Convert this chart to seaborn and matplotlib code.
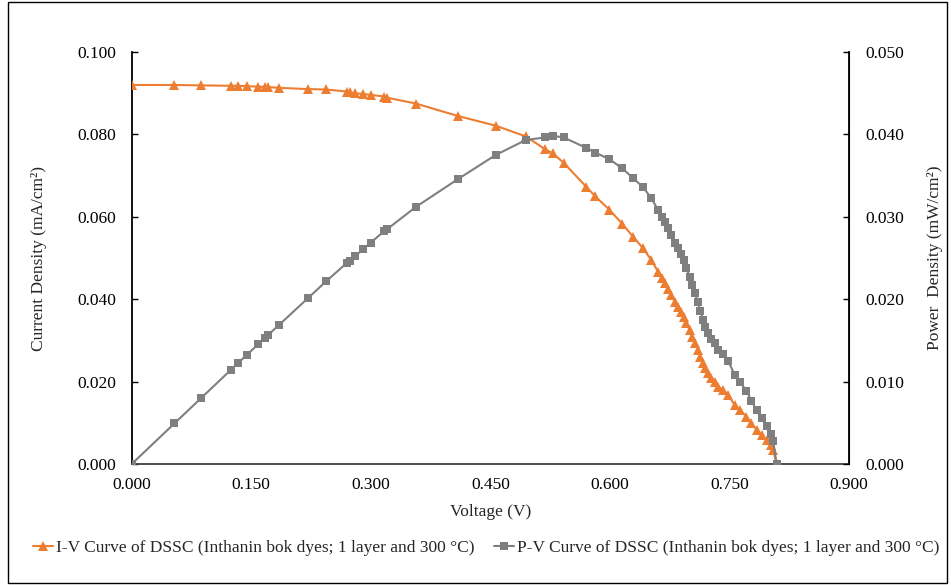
import matplotlib
matplotlib.use("Agg")
import matplotlib.pyplot as plt
import seaborn as sns
from matplotlib.patches import Rectangle
from matplotlib.ticker import FormatStrFormatter, MultipleLocator

# ── data ──────────────────────────────────────────────────────────────
voltage = [0.0000, 0.0536, 0.0872, 0.1249, 0.1333, 0.1447, 0.1585, 0.1668, 0.1711, 0.1844,
           0.2214, 0.2440, 0.2704, 0.2737, 0.2800, 0.2901, 0.2997, 0.3165, 0.3208, 0.3564,
           0.4088, 0.4570, 0.4947, 0.5187, 0.5283, 0.5421, 0.5702, 0.5815, 0.5995, 0.6155,
           0.6289, 0.6415, 0.6520, 0.6604, 0.6654, 0.6687, 0.6730, 0.6772, 0.6813, 0.6855,
           0.6897, 0.6931, 0.6960, 0.7001, 0.7031, 0.7064, 0.7107, 0.7136, 0.7170, 0.7190,
           0.7233, 0.7274, 0.7316, 0.7358, 0.7421, 0.7484, 0.7567, 0.7630, 0.7714, 0.7777,
           0.7840, 0.7903, 0.7966, 0.8016, 0.8050, 0.8092]
current = [0.0920, 0.0920, 0.0919, 0.0918, 0.0918, 0.0917, 0.0916, 0.0915, 0.0915, 0.0913,
           0.0910, 0.0909, 0.0904, 0.0902, 0.0900, 0.0898, 0.0896, 0.0892, 0.0889, 0.0875,
           0.0845, 0.0821, 0.0795, 0.0764, 0.0754, 0.0731, 0.0673, 0.0650, 0.0617, 0.0583,
           0.0552, 0.0524, 0.0495, 0.0467, 0.0451, 0.0439, 0.0426, 0.0410, 0.0394, 0.0382,
           0.0370, 0.0358, 0.0342, 0.0325, 0.0309, 0.0293, 0.0277, 0.0260, 0.0244, 0.0232,
           0.0220, 0.0208, 0.0200, 0.0188, 0.0180, 0.0167, 0.0143, 0.0131, 0.0115, 0.0099,
           0.0083, 0.0070, 0.0058, 0.0046, 0.0034, 0.0000]
power = [0.00000, 0.00493, 0.00801, 0.01147, 0.01224, 0.01327, 0.01452, 0.01526, 0.01566, 0.01684,
         0.02015, 0.02218, 0.02444, 0.02469, 0.02520, 0.02605, 0.02685, 0.02823, 0.02852, 0.03119,
         0.03454, 0.03752, 0.03933, 0.03963, 0.03983, 0.03963, 0.03837, 0.03780, 0.03699, 0.03588,
         0.03472, 0.03361, 0.03227, 0.03084, 0.03001, 0.02936, 0.02867, 0.02777, 0.02684, 0.02619,
         0.02552, 0.02481, 0.02380, 0.02275, 0.02173, 0.02070, 0.01969, 0.01855, 0.01749, 0.01668,
         0.01591, 0.01513, 0.01463, 0.01383, 0.01336, 0.01250, 0.01082, 0.01000, 0.00887, 0.00770,
         0.00651, 0.00553, 0.00462, 0.00369, 0.00274, 0.00000]

iv_label = "I-V Curve of DSSC (Inthanin bok dyes; 1 layer and 300 °C)"
pv_label = "P-V Curve of DSSC (Inthanin bok dyes; 1 layer and 300 °C)"
# ──────────────────────────────────────────────────────────────────────

sns.set_style("white")
plt.rcParams["font.family"] = ["Liberation Serif", "DejaVu Serif"]

ORANGE = "#ED7D31"
GRAY = "#7F7F7F"
FS = 12.5

fig = plt.figure(figsize=(9.51, 5.85), dpi=100)
ax = fig.add_axes([0.1385, 0.2068, 0.8927 - 0.1385, 0.9111 - 0.2068])
ax2 = ax.twinx()

sns.lineplot(x=voltage, y=current, ax=ax, color=ORANGE, linewidth=1.5,
             marker="^", markersize=7, markeredgewidth=0, sort=False,
             label=iv_label, legend=False, zorder=3)
sns.lineplot(x=voltage, y=power, ax=ax2, color=GRAY, linewidth=1.5,
             marker="s", markersize=5.5, markeredgewidth=0, sort=False,
             label=pv_label, legend=False, zorder=2)

ax.set_xlim(0, 0.9)
ax.set_ylim(0, 0.1)
ax2.set_ylim(0, 0.05)
ax.xaxis.set_major_locator(MultipleLocator(0.15))
ax.yaxis.set_major_locator(MultipleLocator(0.02))
ax2.yaxis.set_major_locator(MultipleLocator(0.01))
for a in (ax.xaxis, ax.yaxis, ax2.yaxis):
    a.set_major_formatter(FormatStrFormatter("%.3f"))

for a in (ax, ax2):
    a.spines["top"].set_visible(False)
    a.tick_params(direction="in", length=4, width=1, labelsize=FS, colors="black")
ax.spines["bottom"].set_color("#404040")
ax.spines["left"].set_color("black")
ax2.spines["right"].set_color("black")
ax2.spines["left"].set_visible(False)
ax2.spines["bottom"].set_visible(False)
for s in ("left", "bottom"):
    ax.spines[s].set_linewidth(1.3)
ax2.spines["right"].set_linewidth(1.3)
ax.tick_params(axis="x", pad=9)
ax.tick_params(axis="y", pad=11)
ax2.tick_params(axis="y", pad=12)

ax.set_xlabel("Voltage (V)", fontsize=FS, labelpad=8)
ax.set_ylabel("Current Density (mA/cm²)", fontsize=FS, labelpad=22)
ax2.set_ylabel("Power  Density (mW/cm²)", fontsize=FS, labelpad=16)

h1, l1 = ax.get_legend_handles_labels()
h2, l2 = ax2.get_legend_handles_labels()
fig.legend(h1 + h2, l1 + l2, loc="center", bbox_to_anchor=(0.511, 0.064), ncol=2,
           frameon=False, fontsize=FS, handlelength=1.2, handletextpad=0.15,
           columnspacing=1.1)

fig.patches.append(Rectangle((0.008, 0.004), 0.988, 0.992, transform=fig.transFigure,
                             fill=False, edgecolor="black", linewidth=1.0))

fig.savefig("out.png", dpi=100)
